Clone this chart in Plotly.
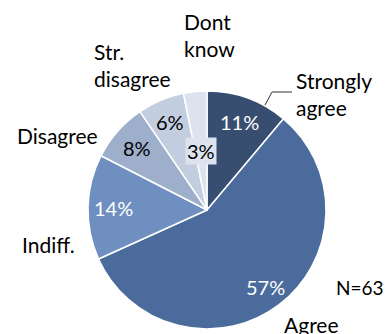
import math
import plotly.graph_objects as go

labels = ["Strongly agree", "Agree", "Indiff.", "Disagree", "Str. disagree", "Dont know"]
counts = [7, 36, 9, 5, 4, 2]
slice_colors = ["#374e70", "#4a6b9b", "#6e8fbf", "#9eafcc", "#c3cde0", "#dce3ee"]
pct_colors = ["white", "white", "white", "black", "black", "black"]
pct_radius = [0.79, 0.81, 0.79, 0.79, 0.80, 0.50]

W, H = 386, 334
cx, cy, R = 207, 210, 119
FONT = "Lato"
FS = 21

def px(x):
    return x / W

def py(y):
    return 1 - y / H

fig = go.Figure(go.Pie(
    labels=labels, values=counts, sort=False, direction="clockwise", rotation=0,
    marker=dict(colors=slice_colors, line=dict(color="white", width=1.5)),
    textinfo="none", hoverinfo="label+percent", showlegend=False,
    domain=dict(x=[px(cx - R), px(cx + R)], y=[py(cy + R), py(cy - R)]),
))

annotations = []
total = sum(counts)
cum = 0
for i, v in enumerate(counts):
    mid = (cum + v / 2) / total * 2 * math.pi
    cum += v
    r = R * pct_radius[i]
    x = cx + r * math.sin(mid)
    y = cy - r * math.cos(mid)
    pct = round(100 * v / total)
    a = dict(x=px(x), y=py(y), xref="paper", yref="paper", text=f"{pct}%",
             showarrow=False, font=dict(family=FONT, size=FS - 1, color=pct_colors[i]),
             xanchor="center", yanchor="middle")
    if i == 5:
        a.update(bgcolor=slice_colors[5], borderpad=1)
    annotations.append(a)

outer = [
    ("Strongly<br>agree", 294, 94, "left"),
    ("Agree", 311, 324, "center"),
    ("Indiff.", 48, 245, "center"),
    ("Disagree", 57, 135, "center"),
    ("Str.<br>disagree", 92, 65, "left"),
    ("Dont<br>know", 182, 35, "left"),
]
for t, x, y, al in outer:
    annotations.append(dict(x=px(x), y=py(y), xref="paper", yref="paper", text=t,
                            showarrow=False, align=al,
                            xanchor="left" if al == "left" else "center", yanchor="middle",
                            font=dict(family=FONT, size=FS, color="black")))

annotations.append(dict(x=px(386), y=py(287), xref="paper", yref="paper", text="N=63",
                        showarrow=False, xanchor="right", yanchor="middle",
                        font=dict(family=FONT, size=FS - 2, color="black")))

fig.update_layout(
    width=W, height=H, margin=dict(l=0, r=0, t=0, b=0),
    paper_bgcolor="white", plot_bgcolor="white",
    annotations=annotations,
    shapes=[dict(type="path", xref="paper", yref="paper",
                 path=f"M {px(265)} {py(105)} L {px(272)} {py(92)} L {px(292)} {py(92)}",
                 line=dict(color="#333333", width=1))],
)

fig.write_html("out.html")
